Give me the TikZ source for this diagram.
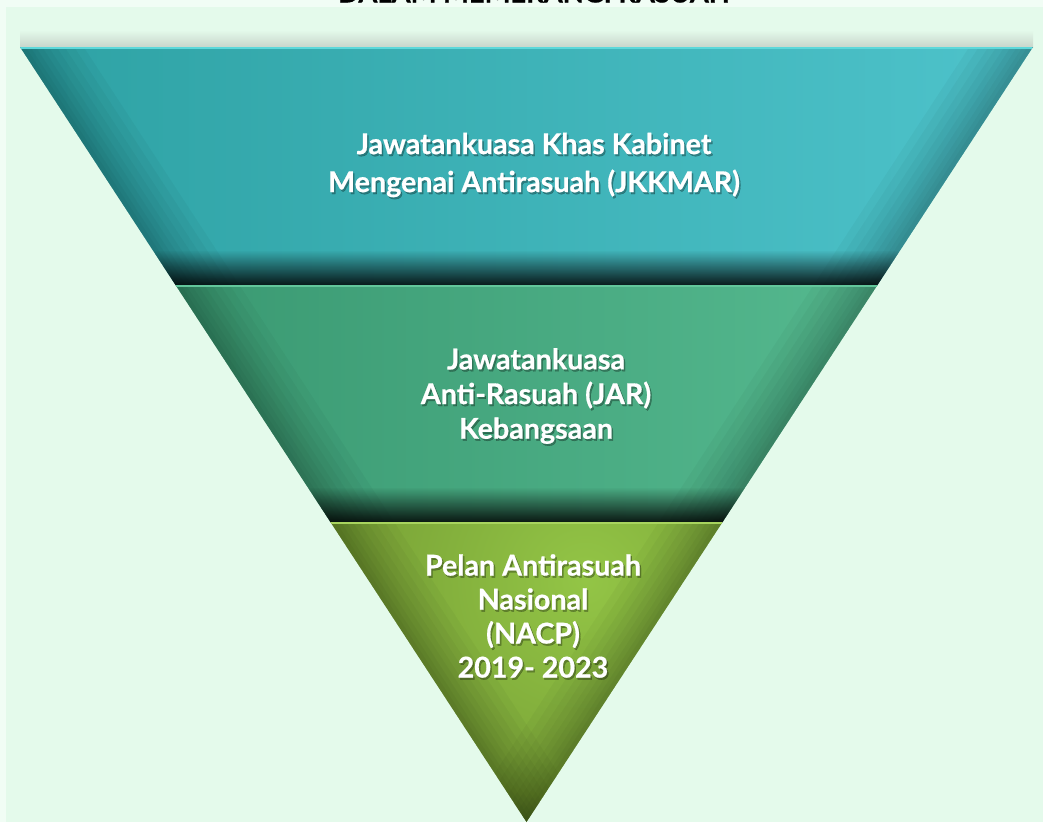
\documentclass[tikz,border=0pt]{standalone}
\usepackage{fontspec}
\setmainfont{Lato}[BoldFeatures={FakeBold=0.6}]
\usetikzlibrary{fadings}

\definecolor{outerbg}{HTML}{F1FDF5}
\definecolor{pagebg}{HTML}{E4FAEB}
\definecolor{topshade}{HTML}{C8D6CB}
\definecolor{tealleft}{HTML}{2EA2A4}
\definecolor{tealright}{HTML}{4EC3CB}
\definecolor{teallight}{HTML}{5DD8DA}
\definecolor{greenleft}{HTML}{3A9972}
\definecolor{greenright}{HTML}{55B98F}
\definecolor{greenlight}{HTML}{62C69B}
\definecolor{olivein}{HTML}{93C546}
\definecolor{oliveout}{HTML}{6F9530}
\definecolor{olivelight}{HTML}{A8D45E}

\tikzset{
  bandlabel/.style={font=\bfseries\fontsize{21.5}{28.5}\selectfont, text=white, align=center, inner sep=0pt},
  bandglow/.style={bandlabel, text=black, text opacity=0.3},
  edgeshade/.style={black, draw opacity=0.03}
}

% soft darkening along one slanted side
\newcommand\darkedge[2]{
	\draw[edgeshade, line width=80] #1 -- #2;
	\draw[edgeshade, line width=68] #1 -- #2;
	\draw[edgeshade, line width=56] #1 -- #2;
	\draw[edgeshade, line width=46] #1 -- #2;
	\draw[edgeshade, line width=36] #1 -- #2;
	\draw[edgeshade, line width=28] #1 -- #2;
	\draw[edgeshade, line width=20] #1 -- #2;
	\draw[edgeshade, line width=13] #1 -- #2;
	\draw[edgeshade, line width=7] #1 -- #2;
}

\begin{document}
\begin{tikzpicture}[x=0.75pt,y=-0.75pt]

\def\TOPBAND{(tl) -- (tr) -- (mr) -- (ml) -- cycle}
\def\MIDBAND{(ml) -- (mr) -- (lr) -- (ll) -- cycle}
\def\LOWBAND{(ll) -- (lr) -- (apex) -- cycle}
\def\TOPTEXT{Jawatankuasa Khas Kabinet\\Mengenai Antirasuah (JKKMAR)}
\def\MIDTEXT{Jawatankuasa\\Anti-Rasuah (JAR)\\Kebangsaan}
\def\LOWTEXT{Pelan Antirasuah\\Nasional\\(NACP)\\2019- 2023}

	% page
	\useasboundingbox (0,0) rectangle (1043,822);
	\fill[outerbg] (0,0) rectangle (1043,822);
	\fill[pagebg] (6,7) rectangle (1043,822);
	\node[font=\bfseries\fontsize{20.5}{20.5}\selectfont, anchor=base, inner sep=0pt] (heading) at (534,2.5) {DALAM MEMERANGI RASUAH};

	% corners of the funnel
	\coordinate (tl) at (20,47);
	\coordinate (tr) at (1033,47);
	\coordinate (ml) at (175.5,285);
	\coordinate (mr) at (877.5,285);
	\coordinate (ll) at (330.4,522);
	\coordinate (lr) at (722.6,522);
	\coordinate (apex) at (526.5,822);

	% shadow above the top edge
	\shade[top color=pagebg, bottom color=topshade] (20,30) rectangle (1033,47);

	% top band
	\begin{scope}
	\clip \TOPBAND;
	\shade[left color=tealleft, right color=tealright] \TOPBAND;
	\darkedge{(tl)}{(apex)}
	\darkedge{(tr)}{(apex)}
	\fill[black, fill opacity=0.85, path fading=north] (0,250) rectangle (1043,285);
	\draw[teallight, line width=2.5] (tl) -- (tr);
	\end{scope}

	% middle band
	\begin{scope}
	\clip \MIDBAND;
	\shade[left color=greenleft, right color=greenright] \MIDBAND;
	\darkedge{(tl)}{(apex)}
	\darkedge{(tr)}{(apex)}
	\fill[black, fill opacity=0.85, path fading=north] (0,487) rectangle (1043,522);
	\draw[greenlight, line width=2.5] (ml) -- (mr);
	\end{scope}

	% bottom band
	\begin{scope}
	\clip \LOWBAND;
	\shade[inner color=olivein, outer color=oliveout] (585,580) circle (330);
	\darkedge{(tl)}{(apex)}
	\darkedge{(tr)}{(apex)}
	\draw[olivelight, line width=2.5] (ll) -- (lr);
	\end{scope}

	% labels with a soft dark glow
	\node[bandglow] (topglow) at (535.5,167) {\TOPTEXT};
	\node[bandlabel] (toplabel) at (534,165) {\TOPTEXT};

	\node[bandglow, font=\bfseries\fontsize{21.5}{26}\selectfont] (midglow) at (537.5,398) {\MIDTEXT};
	\node[bandlabel, font=\bfseries\fontsize{21.5}{26}\selectfont] (midlabel) at (536,396) {\MIDTEXT};

	\node[bandglow, font=\bfseries\fontsize{21.5}{25.5}\selectfont] (lowglow) at (534.5,618) {\LOWTEXT};
	\node[bandlabel, font=\bfseries\fontsize{21.5}{25.5}\selectfont] (lowlabel) at (533,616) {\LOWTEXT};

\end{tikzpicture}
\end{document}
